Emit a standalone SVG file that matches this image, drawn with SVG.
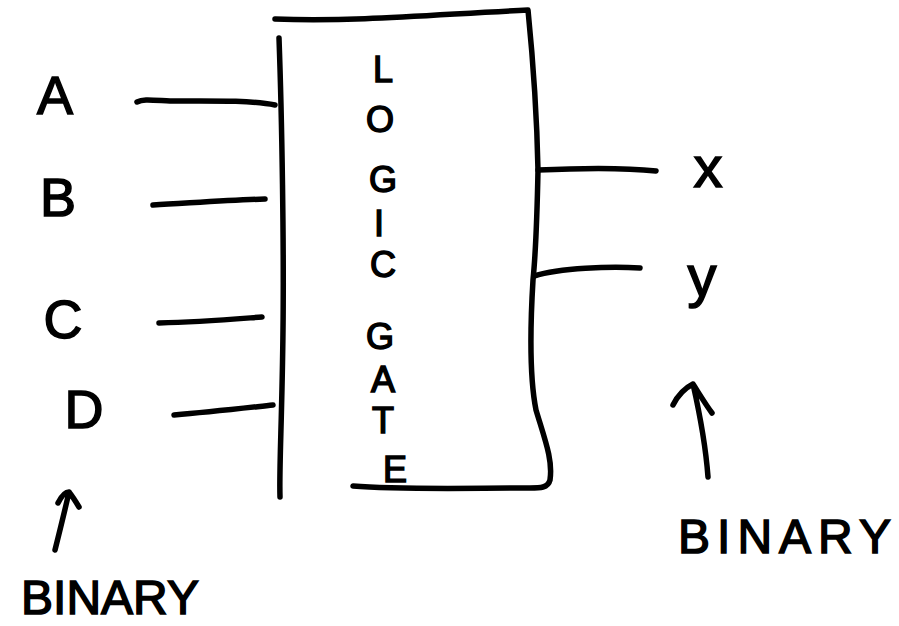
<svg xmlns="http://www.w3.org/2000/svg" width="899" height="626" viewBox="0 0 899 626">
<style>
.ink{fill:none;stroke:#000;stroke-width:5.5;stroke-linecap:round;stroke-linejoin:round}
.lbl{font-family:"Liberation Sans","DejaVu Sans",sans-serif;fill:#000;stroke:#000;stroke-width:1.5;text-anchor:middle}
.gate{font-size:36px}
.io{font-size:54px}
.out{font-size:58px}
.bin{font-size:48px}
</style>
<rect width="899" height="626" fill="#fff"/>
<g id="logic-gate">
<path class="ink" d="M275,19 C360,22 440,14 528,10 C533,60 537,120 538,170 C537,220 535,260 533,280 C530,330 530,380 536,410 C545,440 553,460 550,480 C548,488 540,488 530,488 C470,488 400,490 353,486"/>
<path class="ink" d="M279,38 C282,120 284,250 283,330 C282,420 279,470 280,497"/>
<g class="lbl gate">
<text x="383" y="82">L</text>
<text x="380" y="132">O</text>
<text x="383" y="192">G</text>
<text x="379" y="236">I</text>
<text x="383" y="277">C</text>
<text x="380" y="349">G</text>
<text x="383" y="392">A</text>
<text x="383" y="433">T</text>
<text x="395" y="482">E</text>
</g>
</g>
<g id="input-A"><text class="lbl io" x="55" y="114">A</text></g>
<g id="input-B"><text class="lbl io" x="58" y="216">B</text></g>
<g id="input-C"><text class="lbl io" x="63" y="338">C</text></g>
<g id="input-D"><text class="lbl io" x="84" y="428">D</text></g>
<g id="output-x"><text class="lbl out" x="708" y="187">x</text></g>
<g id="output-y"><text class="lbl out" x="702" y="296">y</text></g>
<g id="binary-in"><text class="lbl bin" x="110" y="614">BINARY</text></g>
<g id="binary-out"><text class="lbl bin" x="788" y="553" letter-spacing="7">BINARY</text></g>
<g id="connectors">
<path class="ink" d="M137,102 C143,99 150,100 170,101 C210,101 250,100 275,105"/>
<path class="ink" d="M153,205 C190,203 230,200 265,199"/>
<path class="ink" d="M159,323 C200,322 235,319 262,317"/>
<path class="ink" d="M174,415 C210,412 245,408 273,405"/>
<path class="ink" d="M538,170 C580,168 620,167 656,171"/>
<path class="ink" d="M534,276 C560,268 610,266 640,268"/>
<path class="ink" d="M55,550 C60,530 65,510 69,492 M58,503 C62,495 66,492 69,492 C73,497 76,502 79,507"/>
<path class="ink" d="M708,477 C706,450 700,415 693,384 M673,405 C678,395 685,388 693,384 C700,395 706,405 712,413"/>
</g>
</svg>
